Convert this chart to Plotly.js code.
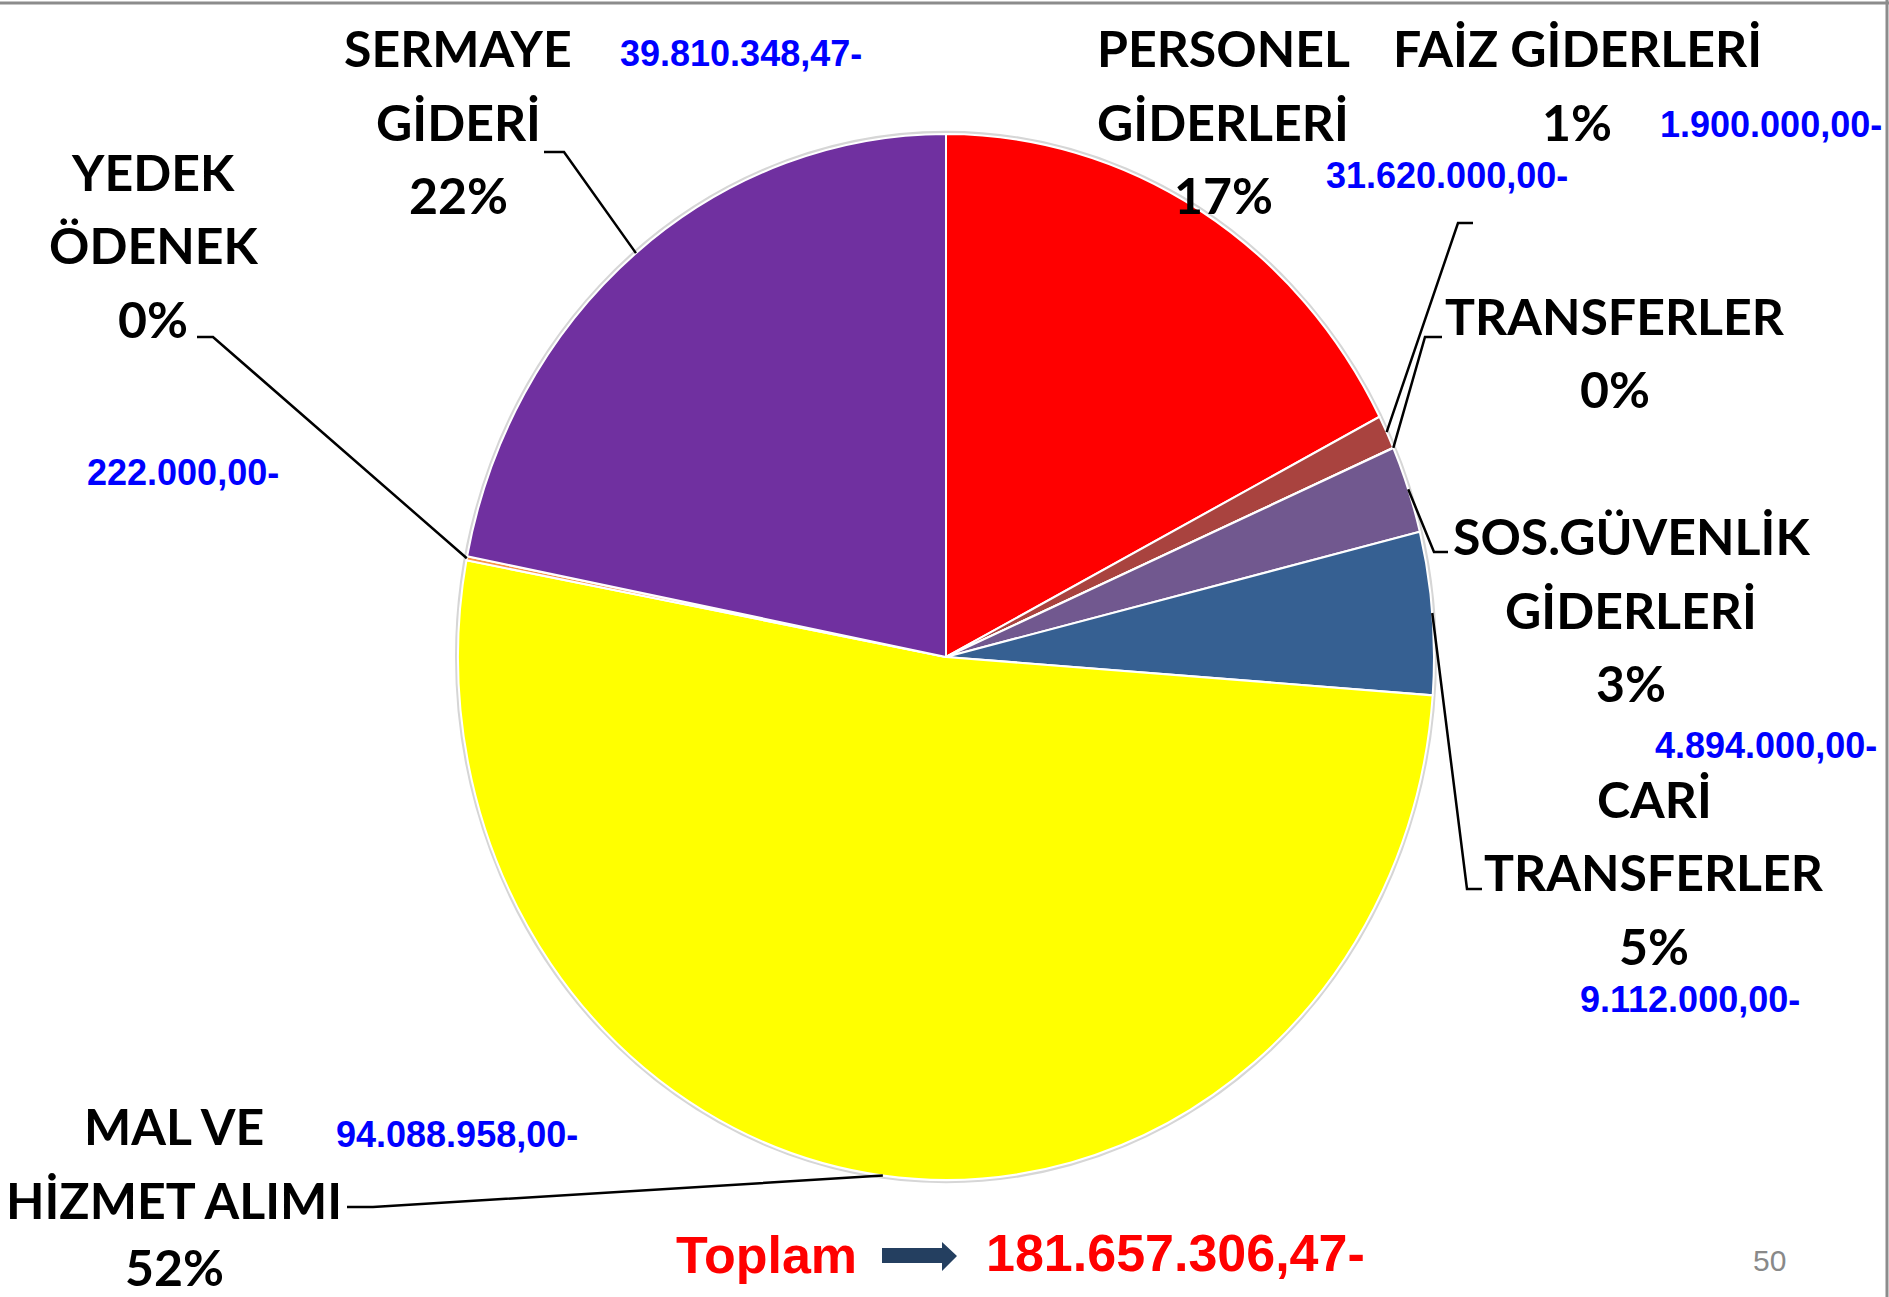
<!DOCTYPE html>
<html>
<head>
<meta charset="utf-8">
<script src="https://cdn.plot.ly/plotly-3.0.1.min.js"></script>
<style>
html,body{margin:0;padding:0;background:#ffffff;}
#wrap{position:relative;width:1889px;height:1297px;overflow:hidden;}
#pie,#chart{position:absolute;left:0;top:0;width:1889px;height:1297px;}
#chart{pointer-events:none;}
</style>
</head>
<body>
<div id="wrap"><div id="pie"></div><div id="chart"></div></div>
<script>
// ---------------- DATA ----------------
const categories = ['PERSONEL GİDERLERİ','FAİZ GİDERLERİ','TRANSFERLER','SOS.GÜVENLİK GİDERLERİ','CARİ TRANSFERLER','MAL VE HİZMET ALIMI','YEDEK ÖDENEK','SERMAYE GİDERİ'];
const labelLines = ['PERSONEL<br>GİDERLERİ','FAİZ GİDERLERİ','TRANSFERLER','SOS.GÜVENLİK<br>GİDERLERİ','CARİ<br>TRANSFERLER','MAL VE<br>HİZMET ALIMI','YEDEK<br>ÖDENEK','SERMAYE<br>GİDERİ'];
const values = [31620000, 1900000, 10000, 4894000, 9112000, 94088958, 222000, 39810348.47];
const showAmount = [true, true, false, true, true, true, true, true];
const totalLabel = 'Toplam';
const pageNumber = '50';

// ---------------- STYLE / LAYOUT ----------------
const sliceColors = ['#FF0000','#A9433F','#4BACC6','#71588F','#366092','#FFFF00','#F79646','#7030A0'];
const W = 1889, H = 1297, CX = 946, CY = 657, RX = 488, RY = 523;
const px = x => x / W, py = y => 1 - y / H;

// label blocks: center x and the y of each line (px)
const labelPos = [
  {x:1223, ys:[48,122,195]}, {x:1577, ys:[48,122]}, {x:1615, ys:[316,389]}, {x:1631, ys:[536,610,683]},
  {x:1654, ys:[799,872,946]}, {x:174, ys:[1126,1200,1267]}, {x:153, ys:[172,245,319]}, {x:458, ys:[48,122,195]}
];
const amountPos = [
  {x:1447, y:175}, {x:1771, y:124}, null, {x:1766, y:745},
  {x:1690, y:1000}, {x:457, y:1134}, {x:183, y:473}, {x:741, y:54}
];
const leaderElbows = [
  null,
  [[1473,223],[1458,223]],
  [[1442,337],[1425,337]],
  [[1448,552],[1434,552]],
  [[1482,889],[1467,889]],
  [[347,1207],[373,1207]],
  [[197,337],[213,337]],
  [[544,152],[564,152]]
];

const labelFont = {family:'Lato, sans-serif', size:50, color:'#000000', weight:'bold'};
const amountFont = {family:'Liberation Sans, Arial, sans-serif', size:36, color:'#0000FF', weight:'bold'};
const totalFont = {family:'Liberation Sans, Arial, sans-serif', size:52, color:'#FF0000', weight:'bold'};

// ---------------- HELPERS ----------------
const total = Math.round(values.reduce((a,b)=>a+b,0)*100)/100;
function fmtTR(v){
  const s = (Math.round(v*100)/100).toFixed(2);
  let [i,d] = s.split('.');
  i = i.replace(/\B(?=(\d{3})+(?!\d))/g,'.');
  return i + ',' + d + '-';
}

// slice mid angles (clockwise from 12 o'clock) from data
let cum = 0;
const midAngles = values.map(v => { const a = 2*Math.PI*(cum + v/2)/total; cum += v; return a; });

const annotations = [];
const shapes = [];

values.forEach((v,i) => {
  const pct = Math.round(v/total*100) + '%';
  const lines = labelLines[i].split('<br>').concat([pct]);
  lines.forEach((t,k) => {
    annotations.push({
      xref:'paper', yref:'paper', x:px(labelPos[i].x), y:py(labelPos[i].ys[k]),
      xanchor:'center', yanchor:'middle', align:'center', showarrow:false,
      text:t, font:labelFont
    });
  });
  if (showAmount[i] && amountPos[i]) {
    annotations.push({
      xref:'paper', yref:'paper', x:px(amountPos[i].x), y:py(amountPos[i].y),
      xanchor:'center', yanchor:'middle', showarrow:false,
      text: fmtTR(v), font: amountFont
    });
  }
  if (leaderElbows[i]) {
    const th = midAngles[i];
    const ex = CX + RX*Math.sin(th), ey = CY - RY*Math.cos(th);
    const p = leaderElbows[i];
    shapes.push({
      type:'path', xref:'paper', yref:'paper',
      path:`M${px(p[0][0])},${py(p[0][1])} L${px(p[1][0])},${py(p[1][1])} L${px(ex)},${py(ey)}`,
      line:{color:'#000000', width:2.5}
    });
  }
});

// total line
annotations.push({xref:'paper', yref:'paper', x:px(766), y:py(1255), xanchor:'center', yanchor:'middle', showarrow:false, text:totalLabel, font:totalFont});
annotations.push({xref:'paper', yref:'paper', x:px(1175), y:py(1253), xanchor:'center', yanchor:'middle', showarrow:false, text:fmtTR(total), font:totalFont});
annotations.push({xref:'paper', yref:'paper', x:px(1769), y:py(1260), xanchor:'center', yanchor:'middle', showarrow:false, text:pageNumber, font:{family:'Liberation Sans, Arial, sans-serif', size:30, color:'#898989'}});

// arrow
const ar = [[882,1248],[942,1248],[942,1242],[957,1256],[942,1271],[942,1263],[882,1263]];
shapes.push({type:'path', xref:'paper', yref:'paper',
  path: 'M' + ar.map(p => px(p[0]) + ',' + py(p[1])).join(' L') + ' Z',
  fillcolor:'#243F60', line:{width:0}});

// frame lines
shapes.push({type:'line', xref:'paper', yref:'paper', x0:0, x1:1, y0:py(3), y1:py(3), line:{color:'#8C8C8C', width:3}});
shapes.push({type:'line', xref:'paper', yref:'paper', x0:px(1887), x1:px(1887), y0:0, y1:1, line:{color:'#8C8C8C', width:3}});

// ---- pie (drawn at radius RX, then stretched vertically to RY via CSS, as in the slide) ----
const trace = {
  type:'pie', labels:categories, values:values, sort:false, direction:'clockwise', rotation:0,
  textinfo:'none', hoverinfo:'label+value+percent', showlegend:false,
  marker:{colors:sliceColors, line:{color:'#FFFFFF', width:2}},
  domain:{x:[px(CX-RX), px(CX+RX)], y:[py(CY+RX), py(CY-RX)]}
};
const pieLayout = {
  width:W, height:H, margin:{l:0,r:0,t:0,b:0},
  paper_bgcolor:'#FFFFFF', plot_bgcolor:'#FFFFFF', showlegend:false,
  shapes:[{type:'circle', xref:'paper', yref:'paper', layer:'below',
    x0:px(CX-RX-1), x1:px(CX+RX+1), y0:py(CY+RX+1), y1:py(CY-RX-1),
    line:{color:'#D6D6D6', width:4}, fillcolor:'rgba(0,0,0,0)'}]
};
const pieDiv = document.getElementById('pie');
pieDiv.style.transformOrigin = CX + 'px ' + CY + 'px';
pieDiv.style.transform = 'scaleY(' + (RY/RX) + ')';
Plotly.newPlot('pie', [trace], pieLayout, {displayModeBar:false, staticPlot:true});

const layout = {
  width:W, height:H, margin:{l:0,r:0,t:0,b:0},
  paper_bgcolor:'rgba(0,0,0,0)', plot_bgcolor:'rgba(0,0,0,0)',
  xaxis:{visible:false}, yaxis:{visible:false},
  showlegend:false, annotations:annotations, shapes:shapes
};
Plotly.newPlot('chart', [], layout, {displayModeBar:false, staticPlot:true});
</script>
</body>
</html>
